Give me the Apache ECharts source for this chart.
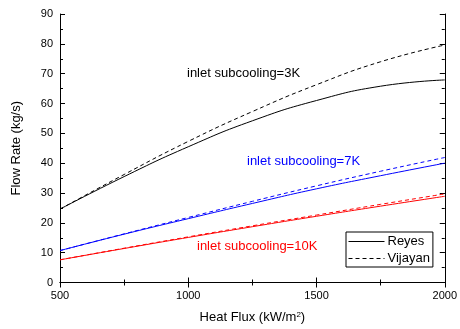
<!DOCTYPE html>
<html>
<head>
<meta charset="utf-8">
<title>Flow rate vs heat flux</title>
<style>
  html, body { margin: 0; padding: 0; background: #fff; }
</style>
</head>
<body>
<div id="main" style="width: 460px;height:329px;"></div>
<script src="https://cdn.jsdelivr.net/npm/echarts@6/dist/echarts.min.js"></script>
<script>
    // heat flux, kW/m2
    var heatFlux = [500, 750, 1000, 1250, 1500, 1750, 2000];
    // flow rate, kg/s
    var reyes3K   = [24.6, 35.5, 45.5, 54.2, 61.0, 65.8, 67.9];
    var vijayan3K = [24.6, 36.2, 47.3, 57.3, 66.3, 74.0, 79.6];
    var reyes7K   = [10.7, 16.2, 21.4, 26.5, 31.4, 35.8, 40.0];
    var vijayan7K = [10.7, 16.3, 21.8, 27.2, 32.4, 37.3, 41.9];
    var reyes10K   = [7.6, 11.4, 15.1, 18.7, 22.2, 25.6, 28.9];
    var vijayan10K = [7.6, 11.5, 15.3, 19.0, 22.6, 26.2, 29.7];
    var yTicks = [0, 10, 20, 30, 40, 50, 60, 70, 80, 90];

    function pairs(ys) {
        return heatFlux.map(function (x, i) { return [x, ys[i]]; });
    }

    function line(name, ys, color, dashed) {
        return {
            name: name,
            type: 'line',
            data: pairs(ys),
            smooth: 0.5,
            symbol: 'none',
            silent: true,
            lineStyle: { color: color, width: 1, type: dashed ? [4, 3] : 'solid' },
            itemStyle: { color: color }
        };
    }

    var font = 'Arial, "Liberation Sans", sans-serif';
    var black = { color: '#000', width: 1 };

    // framed axis with inward ticks; minor = short ticks only
    function xAx(pos, step, len, extra) {
        var a = {
            type: 'value', min: 500, max: 2000, interval: step, position: pos,
            axisLine: { show: len === 5, lineStyle: black },
            axisTick: { show: true, inside: true, length: len, lineStyle: black },
            splitLine: { show: false }, axisLabel: { show: false }
        };
        return Object.assign(a, extra || {});
    }
    function yAx(pos, step, len, extra) {
        var a = {
            type: 'value', min: yTicks[0], max: yTicks[yTicks.length - 1], interval: step, position: pos,
            axisLine: { show: len === 5, lineStyle: black },
            axisTick: { show: true, inside: true, length: len, lineStyle: black },
            splitLine: { show: false }, axisLabel: { show: false }
        };
        return Object.assign(a, extra || {});
    }

    var myChart = echarts.init(document.getElementById('main'));
    var option = {
        animation: false,
        grid: { left: 60, right: 13, top: 14, bottom: 46 },
        legend: {
            data: ['Reyes', 'Vijayan'],
            orient: 'vertical',
            left: 346, top: 232,
            padding: [3, 3, 2, 2],
            itemGap: 4,
            itemWidth: 36, itemHeight: 12,
            itemStyle: { opacity: 0 },
            lineStyle: { width: 1 },
            borderColor: '#000', borderWidth: 1, borderRadius: 0,
            textStyle: { fontFamily: font, fontSize: 13, color: '#000', padding: [0, 0, 0, -2] }
        },
        xAxis: [
            xAx('bottom', 500, 5, {
                name: 'Heat Flux (kW/m{sup|2})',
                nameLocation: 'middle', nameGap: 28,
                nameTextStyle: {
                    fontFamily: font, fontSize: 13, color: '#000',
                    rich: { sup: { fontSize: 8, verticalAlign: 'top', padding: [0, 0, 6, 0], fontFamily: font, color: '#000' } }
                },
                axisLabel: {
                    show: true, fontFamily: font, fontSize: 11, color: '#000', margin: 8,
                    formatter: function (v) { return String(v); }
                }
            }),
            xAx('top', 500, 5),
            xAx('bottom', 250, 3),
            xAx('top', 250, 3)
        ],
        yAxis: [
            yAx('left', 10, 5, {
                name: 'Flow Rate (kg/s)',
                nameLocation: 'middle', nameGap: 37,
                nameTextStyle: { fontFamily: font, fontSize: 13, color: '#000' },
                axisLabel: { show: true, fontFamily: font, fontSize: 11, color: '#000', margin: 7 }
            }),
            yAx('right', 10, 5),
            yAx('left', 5, 3),
            yAx('right', 5, 3)
        ],
        graphic: [
            { type: 'text', left: 187, top: 67, style: { text: 'inlet subcooling=3K', fill: '#000', font: '13px ' + font } },
            { type: 'text', left: 247, top: 155, style: { text: 'inlet subcooling=7K', fill: '#0000ff', font: '13px ' + font } },
            { type: 'text', left: 197, top: 240, style: { text: 'inlet subcooling=10K', fill: '#ff0000', font: '13px ' + font } }
        ],
        series: [
            line('Reyes', reyes3K, '#000', false),
            line('Vijayan', vijayan3K, '#000', true),
            line('Reyes 7K', reyes7K, '#0000ff', false),
            line('Vijayan 7K', vijayan7K, '#0000ff', true),
            line('Reyes 10K', reyes10K, '#ff0000', false),
            line('Vijayan 10K', vijayan10K, '#ff0000', true)
        ]
    };
    myChart.setOption(option);
</script>
</body>
</html>
